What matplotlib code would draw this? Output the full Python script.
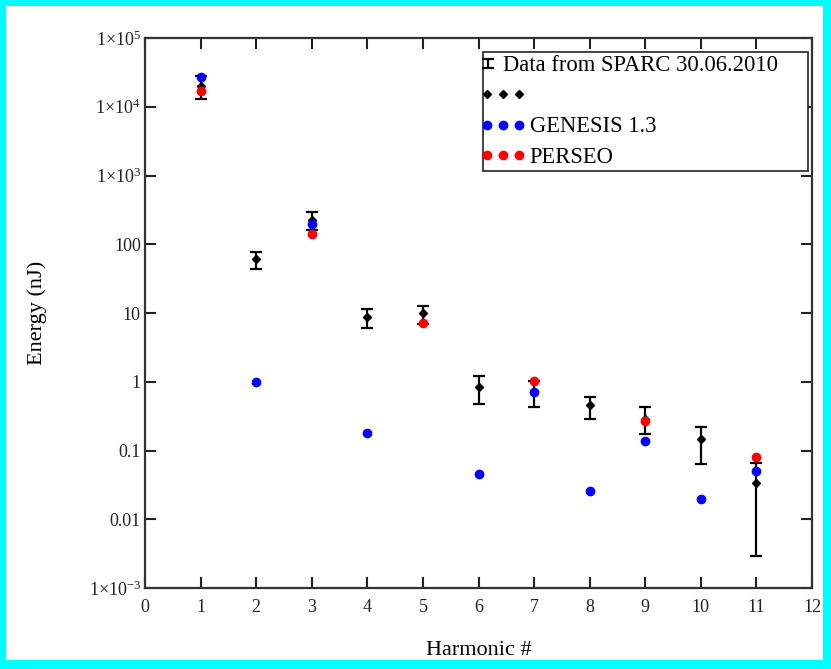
import numpy as np
import matplotlib
matplotlib.use("Agg")
import matplotlib.pyplot as plt
from matplotlib.patches import Rectangle
from matplotlib.lines import Line2D
from matplotlib.legend_handler import HandlerErrorbar, HandlerLine2D

plt.rcParams['font.family'] = ['Liberation Serif', 'DejaVu Serif']
plt.rcParams['mathtext.fontset'] = 'custom'
plt.rcParams['mathtext.rm'] = 'Liberation Serif'
plt.rcParams['mathtext.it'] = 'Liberation Serif:italic'

# measured energies (nJ), SPARC 30.06.2010
harm = [1, 2, 3, 4, 5, 6, 7, 8, 9, 10, 11]
sparc = [2.02e4, 61, 225, 8.65, 9.9, 0.85, 0.72, 0.454, 0.29, 0.147, 0.0337]
err_minus = [0.74e4, 18, 64, 2.55, 2.9, 0.38, 0.29, 0.164, 0.118, 0.083, 0.0308]
err_plus = [0.74e4, 17, 67, 2.95, 2.9, 0.35, 0.29, 0.156, 0.14, 0.07, 0.0328]

# simulations
genesis_h = [1, 2, 3, 4, 6, 7, 8, 9, 10, 11]
genesis = [2.7e4, 1.0, 199, 0.178, 0.046, 0.70, 0.026, 0.139, 0.0195, 0.050]
perseo_h = [1, 3, 5, 7, 9, 11]
perseo = [1.7e4, 141, 7.08, 1.04, 0.268, 0.081]

yticks = [1e-3, 1e-2, 1e-1, 1, 10, 100, 1e3, 1e4, 1e5]
ytick_labels = ['1×10$^{-3}$', '0.01', '0.1', '1', '10', '100',
                '1×10$^{3}$', '1×10$^{4}$', '1×10$^{5}$']

fig = plt.figure(figsize=(8.31, 6.69), dpi=100)
fig.patch.set_facecolor('#00ffff')
fig.patches.append(Rectangle((6/831, 9/669), 817/831, 654/669,
                             transform=fig.transFigure, facecolor='white',
                             edgecolor='none', zorder=-10))

ax = fig.add_axes([145/831, 81/669, 667/831, 550/669])
ax.set_yscale('log')

eb = ax.errorbar(harm, sparc, yerr=[err_minus, err_plus], fmt='none',
                 ecolor='black', elinewidth=1.6, capsize=4, capthick=1.6,
                 zorder=2)
dia, = ax.plot(harm, sparc, 'D', color='black', ms=4, zorder=2.5)
gen, = ax.plot(genesis_h, genesis, 'o', color='#0000ff', ms=6, zorder=3)
per, = ax.plot(perseo_h, perseo, 'o', color='#ff0000', ms=6, zorder=3)

ax.set_xlim(0, 12)
ax.set_ylim(1e-3, 1e5)
ax.set_xticks(range(0, 13))
ax.set_yticks(yticks)
ax.set_yticklabels(ytick_labels)
ax.yaxis.set_minor_locator(matplotlib.ticker.NullLocator())
ax.tick_params(axis='both', which='major', direction='in', length=8,
               width=1.5, top=True, right=True, labelsize=13,
               colors='#222222')
ax.tick_params(axis='x', pad=8)
ax.tick_params(axis='y', pad=3)
for s in ax.spines.values():
    s.set_linewidth(1.6)
    s.set_color('#333333')

ax.set_xlabel('Harmonic #', fontsize=16, labelpad=18)
ax.set_ylabel('Energy (nJ)', fontsize=16, labelpad=30)


class LeftErrorbar(HandlerErrorbar):
    def get_xdata(self, legend, xdescent, ydescent, width, height, fontsize):
        xdata, _ = super().get_xdata(legend, xdescent, ydescent, width,
                                     height, fontsize)
        return xdata, np.array([-xdescent + self._marker_pad * fontsize + 1])


leg = ax.legend([eb, dia, gen, per],
                ['Data from SPARC 30.06.2010', ' ', 'GENESIS 1.3', 'PERSEO'],
                handler_map={eb: LeftErrorbar(numpoints=1, yerr_size=0.18,
                                              marker_pad=0.05),
                             Line2D: HandlerLine2D(marker_pad=0.05)},
                numpoints=3, loc='upper right',
                bbox_to_anchor=(0.994, 0.9745), borderaxespad=0,
                fontsize=16.3, fancybox=False, framealpha=1,
                edgecolor='#222222', handlelength=1.5, handletextpad=0.43,
                labelspacing=0.42, borderpad=0.15)
leg.get_frame().set_linewidth(1.2)
# the first entry's text sits right after the small error-bar icon
leg.get_texts()[0].set_x(-27)

fig.savefig('out.png', dpi=100, facecolor=fig.get_facecolor())
